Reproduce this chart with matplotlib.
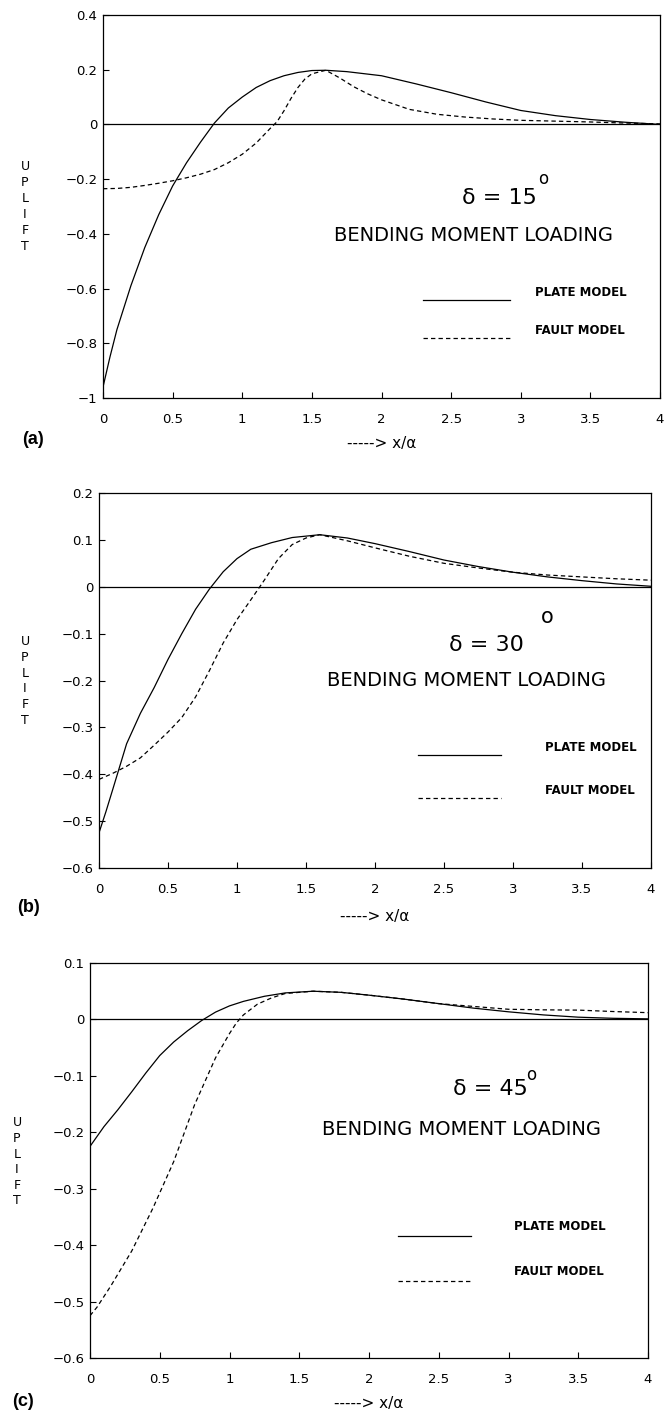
import matplotlib.pyplot as plt

# panel (a) delta = 15
xa_plate = [0.0, 0.05, 0.1, 0.2, 0.3, 0.4, 0.5, 0.6, 0.7, 0.8, 0.9, 1.0, 1.1, 1.2, 1.3, 1.4, 1.5, 1.6,
            1.75, 2.0, 2.25, 2.5, 2.75, 3.0, 3.25, 3.5, 3.75, 4.0]
ya_plate = [-0.96, -0.85, -0.75, -0.59, -0.45, -0.33, -0.225, -0.14, -0.065, 0.005, 0.06, 0.10, 0.135,
            0.16, 0.178, 0.19, 0.197, 0.198, 0.193, 0.178, 0.148, 0.116, 0.082, 0.051, 0.032, 0.018,
            0.008, 0.0]
xa_fault = [0.0, 0.1, 0.2, 0.3, 0.4, 0.5, 0.6, 0.7, 0.8, 0.9, 1.0, 1.1, 1.2, 1.25, 1.3, 1.35, 1.4, 1.45,
            1.5, 1.6, 1.7, 1.8, 1.9, 2.0, 2.2, 2.4, 2.6, 2.8, 3.0, 3.25, 3.5, 3.75, 4.0]
ya_fault = [-0.235, -0.234, -0.23, -0.223, -0.215, -0.206, -0.195, -0.182, -0.165, -0.14, -0.109, -0.068,
            -0.015, 0.01, 0.05, 0.095, 0.135, 0.166, 0.185, 0.198, 0.17, 0.138, 0.112, 0.09, 0.055,
            0.037, 0.027, 0.02, 0.015, 0.012, 0.009, 0.005, 0.002]

# panel (b) delta = 30
xb_plate = [0.0, 0.05, 0.1, 0.2, 0.3, 0.4, 0.5, 0.6, 0.7, 0.8, 0.9, 1.0, 1.1, 1.25, 1.4, 1.6, 1.8, 2.0,
            2.25, 2.5, 2.75, 3.0, 3.25, 3.5, 3.75, 4.0]
yb_plate = [-0.525, -0.48, -0.432, -0.335, -0.27, -0.215, -0.155, -0.10, -0.048, -0.005, 0.032, 0.06,
            0.08, 0.094, 0.105, 0.111, 0.104, 0.092, 0.075, 0.057, 0.043, 0.031, 0.021, 0.013, 0.006,
            0.001]
xb_fault = [0.0, 0.1, 0.2, 0.3, 0.4, 0.5, 0.6, 0.7, 0.8, 0.9, 1.0, 1.1, 1.2, 1.3, 1.4, 1.5, 1.6, 1.8,
            2.0, 2.25, 2.5, 2.75, 3.0, 3.25, 3.5, 3.75, 4.0]
yb_fault = [-0.411, -0.398, -0.383, -0.365, -0.338, -0.31, -0.279, -0.235, -0.179, -0.12, -0.07, -0.028,
            0.015, 0.06, 0.09, 0.104, 0.111, 0.098, 0.083, 0.065, 0.05, 0.04, 0.031, 0.025, 0.021,
            0.017, 0.014]

# panel (c) delta = 45
xc_plate = [0.0, 0.1, 0.2, 0.3, 0.4, 0.5, 0.6, 0.7, 0.8, 0.9, 1.0, 1.1, 1.25, 1.4, 1.6, 1.8, 2.0, 2.25,
            2.5, 2.75, 3.0, 3.25, 3.5, 3.75, 4.0]
yc_plate = [-0.225, -0.19, -0.16, -0.128, -0.095, -0.064, -0.04, -0.02, -0.002, 0.013, 0.024, 0.032,
            0.041, 0.047, 0.05, 0.048, 0.043, 0.036, 0.028, 0.02, 0.0135, 0.008, 0.004, 0.002, 0.001]
xc_fault = [0.0, 0.05, 0.15, 0.3, 0.45, 0.6, 0.75, 0.9, 1.0, 1.05, 1.1, 1.2, 1.3, 1.4, 1.6, 1.8, 2.0,
            2.25, 2.5, 2.75, 3.0, 3.25, 3.5, 3.75, 4.0]
yc_fault = [-0.525, -0.51, -0.472, -0.41, -0.335, -0.252, -0.151, -0.068, -0.025, -0.006, 0.008, 0.027,
            0.038, 0.046, 0.05, 0.048, 0.043, 0.036, 0.028, 0.023, 0.018, 0.017, 0.0165, 0.014, 0.012]

xticks = [0, 0.5, 1, 1.5, 2, 2.5, 3, 3.5, 4]
xtick_labels = ["0", "0.5", "1", "1.5", "2", "2.5", "3", "3.5", "4"]

W, H = 667, 1418
fig = plt.figure(figsize=(W / 100, H / 100), dpi=100)

# rect in pixels: left, top, right, bottom
panels = [
    dict(rect=(103, 15, 660, 398), ylim=(-1, 0.4), yticks=[-1, -0.8, -0.6, -0.4, -0.2, 0, 0.2, 0.4],
         ylabels=["-1", "-0.8", "-0.6", "-0.4", "-0.2", "0", "0.2", "0.4"],
         plate=(xa_plate, ya_plate), fault=(xa_fault, ya_fault),
         delta="15", delta_xy=(2.85, -0.27), sup_xy=(3.16, -0.20), sup_size=12,
         bend_y=-0.405, leg=(2.30, 2.92, -0.643, -0.782, 3.10, -0.615, -0.755),
         tag="(a)", tag_px=(22, 440), upl_px=(25, 207), upl_sp=1.3, xpad=11, xlpad=7),
    dict(rect=(99, 493, 651, 868), ylim=(-0.6, 0.2), yticks=[-0.6, -0.5, -0.4, -0.3, -0.2, -0.1, 0, 0.1, 0.2],
         ylabels=["-0.6", "-0.5", "-0.4", "-0.3", "-0.2", "-0.1", "0", "0.1", "0.2"],
         plate=(xb_plate, yb_plate), fault=(xb_fault, yb_fault),
         delta="30", delta_xy=(2.81, -0.125), sup_xy=(3.25, -0.065), sup_size=15,
         bend_y=-0.20, leg=(2.31, 2.91, -0.358, -0.45, 3.23, -0.342, -0.434),
         tag="(b)", tag_px=(17, 908), upl_px=(25, 681), upl_sp=1.28, xpad=11, xlpad=9),
    dict(rect=(90, 963, 648, 1358), ylim=(-0.6, 0.1), yticks=[-0.6, -0.5, -0.4, -0.3, -0.2, -0.1, 0, 0.1],
         ylabels=["-0.6", "-0.5", "-0.4", "-0.3", "-0.2", "-0.1", "0", "0.1"],
         plate=(xc_plate, yc_plate), fault=(xc_fault, yc_fault),
         delta="45", delta_xy=(2.87, -0.123), sup_xy=(3.16, -0.098), sup_size=12,
         bend_y=-0.195, leg=(2.21, 2.73, -0.384, -0.464, 3.04, -0.367, -0.447),
         tag="(c)", tag_px=(12, 1402), upl_px=(17, 1162), upl_sp=1.26, xpad=11, xlpad=7),
]

for p in panels:
    l, t, r, b = p["rect"]
    ax = fig.add_axes([l / W, 1 - b / H, (r - l) / W, (b - t) / H])
    ax.set_xlim(0, 4)
    ax.set_ylim(*p["ylim"])
    ax.set_xticks(xticks)
    ax.set_xticklabels(xtick_labels)
    ax.set_yticks(p["yticks"])
    ax.set_yticklabels([s.replace("-", "\u2212") for s in p["ylabels"]])
    ax.tick_params(direction="in", length=4, width=0.8, labelsize=9.5, top=False, right=False)
    ax.tick_params(axis="x", pad=p["xpad"])
    ax.tick_params(axis="y", pad=4)
    for s in ax.spines.values():
        s.set_linewidth(0.9)

    ax.axhline(0, color="black", lw=0.9)
    ax.plot(*p["plate"], color="black", lw=0.9)
    ax.plot(*p["fault"], color="black", lw=0.9, dashes=(3.5, 2.5))

    ax.text(p["delta_xy"][0], p["delta_xy"][1], "\u03b4 = " + p["delta"], fontsize=16,
            ha="center", va="center")
    ax.text(p["sup_xy"][0], p["sup_xy"][1], "o", fontsize=p["sup_size"], ha="center", va="center")
    ax.text(2.66, p["bend_y"], "BENDING MOMENT LOADING", fontsize=14, ha="center", va="center")

    x0, x1, yp, yf, xt, ytp, ytf = p["leg"]
    ax.plot([x0, x1], [yp, yp], color="black", lw=0.9)
    ax.plot([x0, x1], [yf, yf], color="black", lw=0.9, dashes=(3.5, 2.5))
    ax.text(xt, ytp, "PLATE MODEL", fontsize=8.5, fontweight="bold", ha="left", va="center")
    ax.text(xt, ytf, "FAULT MODEL", fontsize=8.5, fontweight="bold", ha="left", va="center")

    ax.set_xlabel("-----> x/\u03b1", fontsize=11, labelpad=p["xlpad"])

    fig.text(p["upl_px"][0] / W, 1 - p["upl_px"][1] / H, "U\nP\nL\nI\nF\nT", fontsize=9,
             ha="center", va="center", linespacing=p["upl_sp"])
    fig.text(p["tag_px"][0] / W, 1 - p["tag_px"][1] / H, p["tag"], fontsize=13, fontweight="bold",
             family="Liberation Sans", ha="left", va="center")

fig.savefig("out.png", dpi=100)
